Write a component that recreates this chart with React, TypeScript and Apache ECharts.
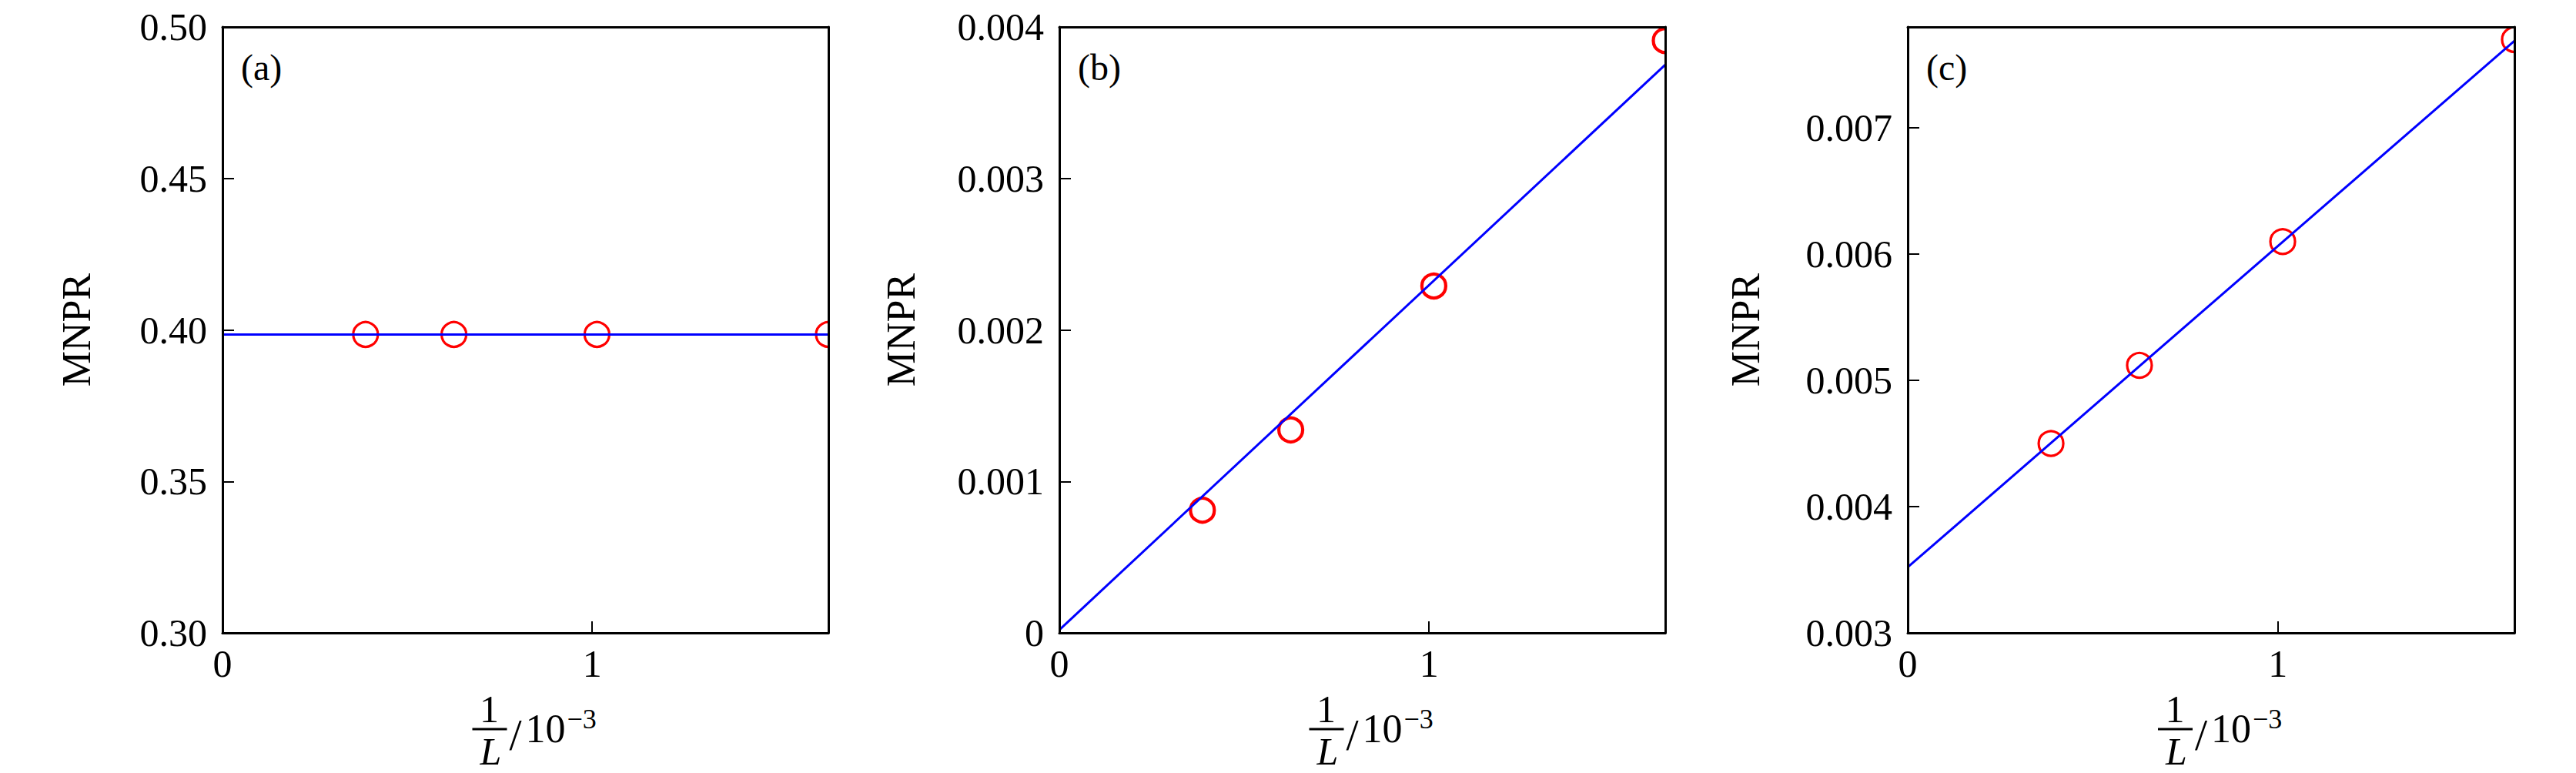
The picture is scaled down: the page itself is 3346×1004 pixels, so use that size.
import React, { useEffect, useRef } from 'react';
import * as echarts from 'echarts';

// 1/L in units of 1e-3 (L = 2584, 1597, 987, 610)
const xValues = [0.387, 0.626, 1.013, 1.639];
const xMin = 0;
const xMax = 1.639;
const xInterval = 1;

const mnprA = [0.3985, 0.3985, 0.3985, 0.3985];
const mnprB = [0.00081, 0.00134, 0.00229, 0.00391];
const mnprC = [0.0045, 0.00512, 0.0061, 0.0077];

const fitX = [0, 1.639];
const fitA = [0.3985, 0.3985];
const fitB = [0.00002, 0.00375];
const fitC = [0.00352, 0.00769];

const panelLabels = ['(a)', '(b)', '(c)'];
const yMins = [0.3, 0, 0.003];
const yMaxs = [0.5, 0.004, 0.0078];
const yIntervals = [0.05, 0.001, 0.001];
const yDigits = [2, 3, 3];
const yTitle = 'MNPR';

const FONT = 'Liberation Serif';

const grids = [
  { left: 289, top: 35, width: 787, height: 787 },
  { left: 1376, top: 35, width: 787, height: 787 },
  { left: 2478, top: 35, width: 788, height: 787 },
];
const nameGaps = [164, 180, 185];
const ringR = [16, 15.5, 16];
const ringW = [3.2, 4.2, 3.2];

export default function App() {
  const ref = useRef<HTMLDivElement>(null);
  useEffect(() => {
    if (!ref.current) return;
    const chart = echarts.init(ref.current, undefined, { renderer: 'svg' });
    const series = [mnprA, mnprB, mnprC];
    const fits = [fitA, fitB, fitC];

    const xAxis: any[] = [];
    const yAxis: any[] = [];
    const seriesOpt: any[] = [];
    const graphic: any[] = [];

    grids.forEach((g, i) => {
      const common = { min: xMin, max: xMax, interval: xInterval, gridIndex: i, type: 'value', z: 10 };
      xAxis.push({
        ...common,
        position: 'bottom',
        axisLine: { show: true, onZero: false, lineStyle: { color: '#000', width: 3 } },
        axisTick: { show: true, inside: true, length: 15, lineStyle: { color: '#000', width: 2 } },
        axisLabel: {
          show: true, margin: 15, showMaxLabel: false, color: '#000', fontFamily: FONT, fontSize: 50,
          formatter: (v: number) => String(Math.round(v)),
        },
        splitLine: { show: false },
      });
      xAxis.push({
        ...common,
        position: 'top',
        axisLine: { show: true, onZero: false, lineStyle: { color: '#000', width: 3 } },
        axisTick: { show: false },
        axisLabel: { show: false },
        splitLine: { show: false },
      });
      const ycommon = { min: yMins[i], max: yMaxs[i], interval: yIntervals[i], gridIndex: i, type: 'value', z: 10 };
      yAxis.push({
        ...ycommon,
        position: 'left',
        name: yTitle,
        nameLocation: 'middle',
        nameRotate: 90,
        nameGap: nameGaps[i],
        nameTextStyle: { color: '#000', fontFamily: FONT, fontSize: 52 },
        axisLine: { show: true, onZero: false, lineStyle: { color: '#000', width: 3 } },
        axisTick: { show: true, inside: true, length: 15, lineStyle: { color: '#000', width: 2 } },
        axisLabel: {
          show: true, margin: 20, showMaxLabel: i !== 2, color: '#000', fontFamily: FONT, fontSize: 50,
          formatter: (v: number) => (v === 0 ? '0' : v.toFixed(yDigits[i])),
        },
        splitLine: { show: false },
      });
      yAxis.push({
        ...ycommon,
        position: 'right',
        axisLine: { show: true, onZero: false, lineStyle: { color: '#000', width: 3 } },
        axisTick: { show: false },
        axisLabel: { show: false },
        splitLine: { show: false },
      });

      const r = ringR[i];
      const lw = ringW[i];
      seriesOpt.push({
        type: 'custom',
        xAxisIndex: i * 2,
        yAxisIndex: i * 2,
        clip: true,
        z: 2,
        data: xValues.map((x, k) => [x, series[i][k]]),
        encode: { x: 0, y: 1 },
        renderItem: (params: any, api: any) => {
          const p = api.coord([api.value(0), api.value(1)]);
          return {
            type: 'circle',
            shape: { cx: p[0], cy: p[1], r },
            style: { fill: 'none', stroke: '#ff0000', lineWidth: lw },
          };
        },
      });
      seriesOpt.push({
        type: 'line',
        xAxisIndex: i * 2,
        yAxisIndex: i * 2,
        z: 3,
        showSymbol: false,
        symbol: 'none',
        clip: true,
        data: fitX.map((x, k) => [x, fits[i][k]]),
        lineStyle: { color: '#0000ff', width: 3 },
      });

      // panel label
      graphic.push({
        type: 'text',
        x: g.left + 24,
        y: 87,
        style: {
          text: panelLabels[i], fill: '#000', font: `48px "${FONT}"`,
          textAlign: 'left', textVerticalAlign: 'middle',
        },
        z: 20,
      });

      // x-axis title: (1/L) / 10^-3
      const cx = g.left + g.width / 2 + 18;
      graphic.push({
        type: 'text', x: cx - 65, y: 921,
        style: { text: '1', fill: '#000', font: `50px "${FONT}"`, lineHeight: 44, textAlign: 'center', textVerticalAlign: 'middle' },
      });
      graphic.push({
        type: 'line', shape: { x1: cx - 87, y1: 947, x2: cx - 42, y2: 947 },
        style: { stroke: '#000', lineWidth: 3 },
      });
      graphic.push({
        type: 'text', x: cx - 63, y: 976,
        style: { text: 'L', fill: '#000', font: `italic 50px "${FONT}"`, lineHeight: 44, textAlign: 'center', textVerticalAlign: 'middle' },
      });
      graphic.push({
        type: 'text', x: cx - 31, y: 954,
        style: { text: '/', fill: '#000', font: `58px "${FONT}"`, lineHeight: 50, textAlign: 'center', textVerticalAlign: 'middle' },
      });
      graphic.push({
        type: 'text', x: cx - 18, y: 946,
        style: { text: '10', fill: '#000', font: `52px "${FONT}"`, lineHeight: 44, textAlign: 'left', textVerticalAlign: 'middle' },
      });
      graphic.push({
        type: 'text', x: cx + 36, y: 934,
        style: { text: '\u22123', fill: '#000', font: `36px "${FONT}"`, lineHeight: 30, textAlign: 'left', textVerticalAlign: 'middle' },
      });
    });

    chart.setOption({
      animation: false,
      backgroundColor: '#fff',
      grid: grids.map((g) => ({ ...g, show: false, containLabel: false })),
      xAxis,
      yAxis,
      series: seriesOpt,
      graphic,
    });
    return () => chart.dispose();
  }, []);
  return (
    <div
      ref={ref}
      style={{ position: 'absolute', left: 0, top: 0, width: 3346, height: 1004, background: '#fff' }}
    />
  );
}
